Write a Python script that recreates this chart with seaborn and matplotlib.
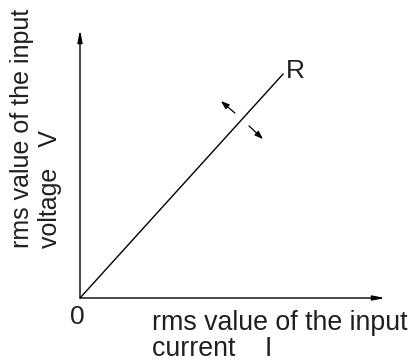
import matplotlib
matplotlib.use("Agg")
import matplotlib.pyplot as plt
import seaborn as sns

# data (axis fractions: origin at 0, axis arrow tips at 1)
current = [0.0, 0.666]
voltage = [0.0, 0.836]

# small direction arrows: (tail, head)
arrow_tails = [(0.508, 0.690), (0.554, 0.642)]
arrow_heads = [(0.462, 0.735), (0.600, 0.593)]

line_label = "R"
origin_label = "0"
x_label = "rms value of the input\ncurrent    I"
y_label = "rms value of the input\nvoltage   V"

W, H = 411, 363

sns.set_theme(style="white")
plt.rcParams['font.family'] = ['Liberation Sans', 'DejaVu Sans']

fig = plt.figure(figsize=(W / 100, H / 100), dpi=100)
fig.patch.set_facecolor('white')

# axes box in pixels: origin (80, 298), x tip 385, y tip 30
ax = fig.add_axes([80 / W, 1 - 298 / H, 305 / W, 268 / H])
ax.set_xlim(0, 1)
ax.set_ylim(0, 1)
ax.set_facecolor('none')
for s in ax.spines.values():
    s.set_visible(False)
ax.set_xticks([])
ax.set_yticks([])

sns.lineplot(x=current, y=voltage, ax=ax, color='black', lw=1.0)

# axis arrows
head = dict(arrowstyle='-|>,head_length=0.9,head_width=0.18', color='black',
            lw=1.0, mutation_scale=8, shrinkA=0, shrinkB=0)
ax.annotate('', xy=(1, 0), xytext=(0, 0), arrowprops=head, annotation_clip=False)
ax.annotate('', xy=(0, 1), xytext=(0, 0), arrowprops=head, annotation_clip=False)

small = dict(arrowstyle='-|>,head_length=0.7,head_width=0.25', color='black',
             lw=0.9, mutation_scale=7, shrinkA=0, shrinkB=0)
for t, h in zip(arrow_tails, arrow_heads):
    ax.annotate('', xy=h, xytext=t, arrowprops=small)

txt = '#231f20'
ax.text(current[1] + 0.008, voltage[1] + 0.012, line_label, fontsize=19,
        ha='left', va='center', color=txt)
ax.text(-0.008, -0.025, origin_label, fontsize=19, ha='center', va='top', color=txt)

fig.text(152 / W, 1 - 310 / H, x_label, fontsize=19.3, ha='left', va='top',
         multialignment='left', linespacing=1.0, color=txt)
fig.text(10 / W, 1 - 248 / H, y_label, fontsize=18, rotation=90, ha='left', va='bottom',
         multialignment='left', linespacing=1.22, color=txt)

fig.savefig('out.png', dpi=100, facecolor='white')
